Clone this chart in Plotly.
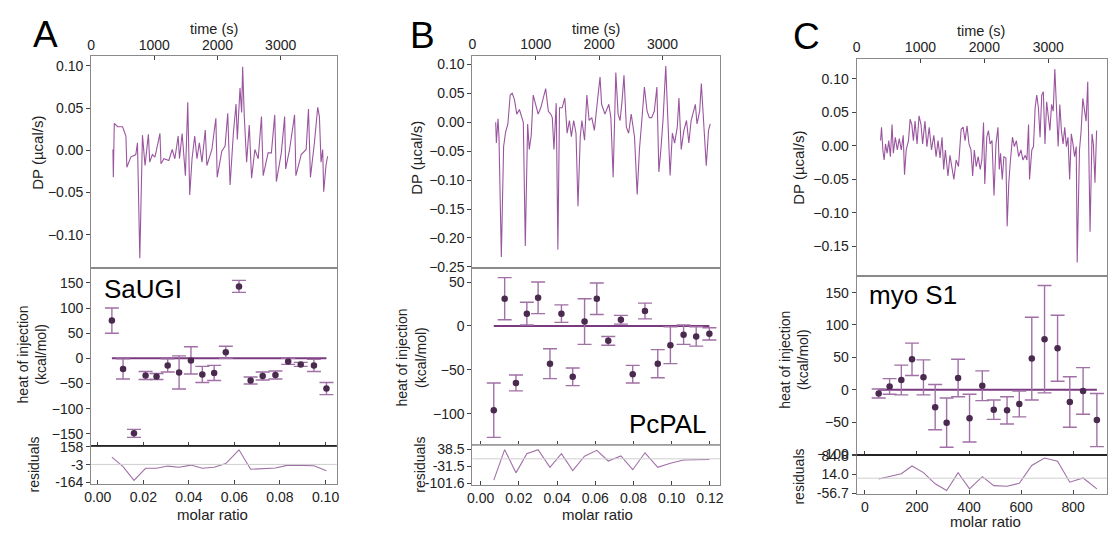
import plotly.graph_objects as go

# ---------------- data: A (SaUGI) ----------------
a_time = [345, 351, 366, 419, 497, 550, 565, 628, 707, 733,
          770, 812, 853, 906, 927, 969, 1010, 1089, 1105, 1152,
          1230, 1283, 1325, 1377, 1398, 1440, 1492, 1529, 1560, 1597,
          1639, 1675, 1712, 1754, 1806, 1832, 1911, 1974, 1995, 2068,
          2120, 2162, 2199, 2251, 2293, 2314, 2330, 2356, 2382, 2398,
          2424, 2461, 2503, 2539, 2592, 2644, 2696, 2723, 2801, 2853,
          2906, 2932, 3010, 3063, 3079, 3141, 3220, 3241, 3325, 3403,
          3440, 3471, 3534, 3586, 3613, 3639, 3665, 3681, 3717, 3743]
a_dp = [0.001, -0.032, 0.032, 0.028, 0.028, 0.017, -0.020, -0.008, -0.005, 0.009,
        -0.128, 0.018, -0.018, 0.019, -0.014, -0.005, -0.008, 0.020, -0.016, -0.010,
        -0.012, 0.001, -0.010, 0.017, -0.010, 0.020, -0.030, 0.057, -0.053, -0.010,
        0.017, -0.010, 0.009, -0.014, 0.024, -0.018, 0.001, 0.038, -0.032, -0.001,
        0.005, 0.044, -0.041, 0.020, 0.055, 0.013, 0.036, 0.074, 0.045, 0.099,
        0.040, -0.014, 0.030, -0.033, 0.001, -0.010, 0.040, -0.030, -0.003, -0.003,
        0.042, -0.037, -0.003, 0.040, -0.022, 0.001, 0.042, -0.030, -0.005, 0.001,
        0.049, -0.032, 0.009, 0.051, 0.040, -0.014, 0.001, -0.049, -0.018, -0.007]
a_ratio = [0.0062, 0.0111, 0.0159, 0.0210, 0.0258, 0.0307, 0.0357, 0.0409, 0.0459, 0.0511,
           0.0562, 0.0620, 0.0671, 0.0724, 0.0780, 0.0836, 0.0891, 0.0949, 0.1004]
a_heat = [75, -21, -149, -34, -36, -14, -28, -4, -32, -29,
          12, 143, -44, -35, -33, -6, -12, -14, -60]
a_err = [25, 20, 8, 8, 6, 13, 33, 27, 16, 15, 12, 12, 7, 8, 8, 6, 4, 12, 12]
a_resid = [66, -20, -144, -35, -35, -15, -26, -6, -35, -26,
           8, 132, -44, -35, -32, -6, -12, -12, -58]
a_resid_ticks = [158, -3, -164]
a_resid_text = ["158", "-3", "-164"]

# ---------------- data: B (PcPAL) ----------------
b_time = [368, 379, 405, 420, 457, 493, 524, 560, 597, 628,
          664, 701, 742, 768, 804, 835, 872, 898, 929, 960,
          1002, 1038, 1079, 1116, 1157, 1199, 1235, 1261, 1287, 1323,
          1349, 1375, 1417, 1458, 1495, 1531, 1562, 1598, 1635, 1666,
          1702, 1728, 1770, 1806, 1842, 1884, 1925, 1962, 2014, 2039,
          2091, 2153, 2185, 2221, 2263, 2299, 2330, 2361, 2392, 2429,
          2465, 2506, 2558, 2600, 2636, 2673, 2714, 2756, 2792, 2828,
          2870, 2911, 2942, 2974, 3010, 3051, 3088, 3119, 3155, 3191,
          3233, 3259, 3295, 3337, 3378, 3415, 3451, 3482, 3518, 3544,
          3586, 3612, 3648, 3690, 3726, 3752]
b_dp = [0.000, -0.036, 0.006, -0.025, -0.233, -0.042, -0.017, -0.003, 0.047, 0.050,
        0.039, 0.014, 0.022, 0.014, 0.000, -0.214, -0.003, -0.047, -0.022, 0.047,
        0.031, 0.014, 0.025, 0.039, 0.058, 0.019, 0.014, 0.008, -0.047, 0.033,
        -0.220, 0.025, 0.025, 0.042, -0.019, 0.003, -0.025, 0.003, -0.019, -0.145,
        -0.025, 0.003, -0.031, 0.047, 0.003, 0.008, -0.014, 0.025, 0.078, 0.031,
        0.014, 0.031, 0.008, -0.095, 0.086, 0.014, 0.003, 0.036, 0.081, -0.008,
        -0.019, 0.014, -0.025, -0.125, -0.047, 0.003, 0.061, 0.019, 0.008, 0.008,
        0.019, 0.061, -0.086, -0.047, 0.008, 0.097, -0.019, -0.092, -0.019, -0.036,
        -0.008, 0.042, -0.047, -0.014, 0.003, -0.036, 0.003, 0.014, 0.031, -0.003,
        0.019, 0.067, 0.008, -0.075, -0.014, -0.003]
b_ratio = [0.0069, 0.0126, 0.0185, 0.0242, 0.0301, 0.0363, 0.0423, 0.0482, 0.0544, 0.0608,
           0.0668, 0.0734, 0.0796, 0.0860, 0.0927, 0.0993, 0.1062, 0.1128, 0.1197]
b_heat = [-96, 31, -65, 14, 32, -43, 14, -58, 5, 31,
          -17, 7, -55, 17, -43, -22, -10, -12, -9]
b_err = [31, 24, 9, 13, 18, 17, 10, 10, 26, 18, 5, 5, 10, 9, 16, 21, 11, 11, 7]
b_resid = [-88, 38, -58, 21, 38, -35, 21, -49, 11, 35,
           -9, 12, -45, 25, -35, -18, -5, -4, -3]
b_resid_ticks = [38.5, -31.5, -101.6]
b_resid_text = ["38.5", "-31.5", "-101.6"]

# ---------------- data: C (myo S1) ----------------
c_time = [376, 391, 412, 432, 453, 479, 504, 530, 556, 576,
          607, 638, 669, 700, 731, 751, 777, 813, 839, 865,
          890, 916, 947, 978, 1009, 1034, 1071, 1101, 1137, 1173,
          1209, 1245, 1276, 1307, 1338, 1364, 1390, 1431, 1462, 1493,
          1523, 1559, 1595, 1637, 1668, 1698, 1729, 1760, 1791, 1817,
          1843, 1873, 1904, 1935, 1961, 1987, 2007, 2038, 2064, 2090,
          2120, 2151, 2182, 2213, 2234, 2254, 2280, 2306, 2337, 2357,
          2383, 2409, 2440, 2470, 2501, 2537, 2573, 2604, 2640, 2666,
          2692, 2707, 2743, 2769, 2795, 2820, 2846, 2872, 2898, 2923,
          2949, 2975, 3006, 3026, 3052, 3078, 3103, 3129, 3155, 3181,
          3206, 3232, 3258, 3284, 3309, 3335, 3361, 3387, 3412, 3438,
          3453, 3489, 3515, 3541, 3567, 3592, 3618, 3634, 3654, 3685,
          3706, 3731, 3757]
c_dp = [0.008, 0.028, -0.006, -0.021, 0.003, -0.011, 0.008, -0.016, 0.032, -0.011,
        0.013, -0.006, 0.011, -0.006, 0.016, -0.043, -0.006, 0.008, 0.040, 0.032,
        0.008, 0.037, 0.003, 0.045, 0.032, 0.003, 0.037, -0.001, 0.028, -0.006,
        0.016, -0.016, 0.008, -0.018, 0.013, -0.035, -0.006, -0.045, -0.014, -0.031,
        -0.050, -0.021, -0.031, 0.025, 0.028, 0.008, 0.030, 0.003, -0.006, -0.045,
        -0.006, -0.031, -0.016, -0.035, -0.021, 0.035, -0.057, 0.013, 0.023, 0.003,
        0.008, -0.074, 0.003, 0.028, -0.035, -0.011, -0.050, -0.016, -0.018, -0.120,
        -0.055, -0.021, 0.013, -0.001, 0.008, -0.016, -0.006, -0.021, -0.014, -0.021,
        0.032, -0.050, -0.006, -0.001, 0.057, 0.076, 0.057, 0.013, 0.076, 0.081,
        0.003, 0.066, 0.032, 0.023, 0.062, 0.052, 0.115, 0.052, -0.001, 0.062,
        0.023, 0.003, 0.028, -0.001, 0.013, -0.050, 0.018, 0.003, -0.016, -0.001,
        -0.174, -0.006, 0.023, 0.071, 0.052, 0.037, 0.096, -0.011, -0.128, 0.018,
        0.003, -0.055, 0.023]
c_ratio = [53, 95, 140, 181, 225, 270, 314, 358, 402, 451,
           495, 546, 593, 641, 690, 740, 787, 838, 891]
c_heat = [-6, 5, 15, 47, 19, -27, -51, 18, -44, 6,
          -31, -32, -22, 48, 78, 64, -19, -2, -47]
c_err = [7, 12, 23, 25, 27, 35, 38, 29, 37, 23, 15, 21, 20, 64, 83, 51, 39, 36, 41]
c_resid = [-3, 6, 17, 46, 21, -21, -46, 21, -40, 6,
           -28, -30, -19, 48, 76, 64, -15, 1, -40]
c_resid_ticks = [84.8, 14.0, -56.7]
c_resid_text = ["84.8", "14.0", "-56.7"]

letters = ["A", "B", "C"]
names = ["SaUGI", "PcPAL", "myo S1"]

# ---------------- layout (pixels) ----------------
W, H = 1115, 537
FONT = "Liberation Sans, Arial, sans-serif"
TXT = "#222222"
FRAME = "#8a8a8a"

panels = [
    dict(time=a_time, dp=a_dp, ratio=a_ratio, heat=a_heat, err=a_err, resid=a_resid,
         rt=a_resid_ticks, rtt=a_resid_text,
         left=85, right=333, top=50.5, s1=268, s2=450.7, bottom=490,
         trange=[0, 3887], dprange=[-0.1395, 0.1116], dpticks=[-0.10, -0.05, 0.0, 0.05, 0.10],
         xrange=[-0.0029, 0.1049], xticks=[0, 0.02, 0.04, 0.06, 0.08, 0.10], xfmt=".2f",
         hrange=[-174, 179.5], hticks=[-150, -100, -50, 0, 50, 100, 150],
         rrange=[-179, 167], split="black",
         letter_xy=(39, 28), name_xy=(96, 290), name_anchor="left",
         dp_title=(30, 150), heat_title=(25, 357), res_title=(27, 470),
         time_title=(209, 23), ratio_title=(208, 521)),
    dict(time=b_time, dp=b_dp, ratio=b_ratio, heat=b_heat, err=b_err, resid=b_resid,
         rt=b_resid_ticks, rtt=b_resid_text,
         left=470, right=720, top=50, s1=268, s2=450, bottom=491,
         trange=[0, 3905], dprange=[-0.252, 0.115],
         dpticks=[-0.25, -0.20, -0.15, -0.10, -0.05, 0.0, 0.05, 0.10],
         xrange=[-0.0043, 0.1252], xticks=[0, 0.02, 0.04, 0.06, 0.08, 0.10, 0.12], xfmt=".2f",
         hrange=[-136, 66], hticks=[-100, -50, 0, 50],
         rrange=[-109, 56], split="#b0b0b0",
         letter_xy=(420, 29), name_xy=(709, 428), name_anchor="right",
         dp_title=(414, 155), heat_title=(408, 360), res_title=(417, 470),
         time_title=(595, 23), ratio_title=(596, 521)),
    dict(time=c_time, dp=c_dp, ratio=c_ratio, heat=c_heat, err=c_err, resid=c_resid,
         rt=c_resid_ticks, rtt=c_resid_text,
         left=858, right=1111, top=53.3, s1=276, s2=460, bottom=500,
         trange=[0, 3920], dprange=[-0.194, 0.130], dpticks=[-0.15, -0.10, -0.05, 0.0, 0.05, 0.10],
         xrange=[-32, 930], xticks=[0, 200, 400, 600, 800], xfmt="d",
         hrange=[-101, 176], hticks=[-100, -50, 0, 50, 100, 150],
         rrange=[-59.3, 87.4], split="black",
         letter_xy=(807, 30), name_xy=(869, 296), name_anchor="left",
         dp_title=(800, 165), heat_title=(794, 362), res_title=(800, 482),
         time_title=(984, 25), ratio_title=(988, 528)),
]


def xdom(p):
    return [p["left"] / W, p["right"] / W]


def ydom(top, bottom):
    return [1 - bottom / H, 1 - top / H]


fig = go.Figure()
layout = {}
annotations = []
shapes = []
tickfont = dict(family=FONT, size=14, color=TXT)
base = dict(showgrid=False, zeroline=False, showline=True, linecolor=FRAME,
            linewidth=1, mirror=True, tickfont=tickfont, tickcolor="#444", ticklen=4)


def ann(text, xy, size=14, angle=0, xanchor="center", color=TXT):
    annotations.append(dict(text=text, x=xy[0] / W, y=1 - xy[1] / H, xref="paper",
                            yref="paper", showarrow=False, textangle=angle,
                            xanchor=xanchor, yanchor="middle",
                            font=dict(family=FONT, size=size, color=color)))


for i, p in enumerate(panels):
    k = 3 * i + 1
    xt, yt = f"x{k}", f"y{k}"
    xh, yh = f"x{k+1}", f"y{k+1}"
    xr, yr = f"x{k+2}", f"y{k+2}"

    # thermogram
    layout[f"xaxis{k}"] = dict(base, domain=xdom(p), anchor=yt, side="top",
                               range=p["trange"], tickvals=[0, 1000, 2000, 3000],
                               ticks="inside")
    layout[f"yaxis{k}"] = dict(base, domain=ydom(p["top"], p["s1"]), anchor=xt,
                               range=p["dprange"], tickvals=p["dpticks"],
                               tickformat=".2f", ticks="outside")
    # heat of injection
    layout[f"xaxis{k+1}"] = dict(base, domain=xdom(p), anchor=yh, matches=xr,
                                 range=p["xrange"], tickvals=p["xticks"],
                                 showticklabels=False, ticks="inside")
    layout[f"yaxis{k+1}"] = dict(base, domain=ydom(p["s1"], p["s2"]), anchor=xh,
                                 range=p["hrange"], tickvals=p["hticks"], ticks="outside")
    # residuals
    layout[f"xaxis{k+2}"] = dict(base, domain=xdom(p), anchor=yr,
                                 range=p["xrange"], tickvals=p["xticks"],
                                 tickformat=p["xfmt"], ticks="inside")
    layout[f"yaxis{k+2}"] = dict(base, domain=ydom(p["s2"], p["bottom"]), anchor=xr,
                                 range=p["rrange"], tickvals=p["rt"], ticktext=p["rtt"],
                                 ticks="outside")

    fig.add_trace(go.Scatter(x=p["time"], y=p["dp"], mode="lines", xaxis=xt, yaxis=yt,
                             line=dict(color="#9a559f", width=1.1)))
    fig.add_trace(go.Scatter(x=[p["ratio"][0], p["ratio"][-1]], y=[0, 0], mode="lines",
                             xaxis=xh, yaxis=yh, line=dict(color="#7a3a80", width=2)))
    fig.add_trace(go.Scatter(x=p["ratio"], y=p["heat"], mode="markers", xaxis=xh, yaxis=yh,
                             marker=dict(color="#4a2a4f", size=6.5),
                             error_y=dict(type="data", array=p["err"], color="#a070a6",
                                          thickness=1.4, width=7)))
    fig.add_trace(go.Scatter(x=p["ratio"], y=p["resid"], mode="lines", xaxis=xr, yaxis=yr,
                             line=dict(color="#a070a6", width=1.1)))

    # zero reference in residuals and heat/residual divider
    shapes.append(dict(type="line", xref=f"{xr} domain", yref=yr, x0=0, x1=1, y0=0, y1=0,
                       line=dict(color="#cfcfcf", width=1)))
    shapes.append(dict(type="line", xref=f"{xr} domain", yref=f"{yr} domain",
                       x0=0, x1=1, y0=1, y1=1, line=dict(color=p["split"], width=1.3)))

    ann(letters[i], p["letter_xy"], size=37, color="black")
    ann(names[i], p["name_xy"], size=26, xanchor=p["name_anchor"], color="black")
    ann("DP (µcal/s)", p["dp_title"], size=15, angle=-90)
    ann("heat of injection<br>(kcal/mol)", p["heat_title"], size=14, angle=-90)
    ann("residuals", p["res_title"], size=14, angle=-90)
    ann("time (s)", p["time_title"], size=14.5)
    ann("molar ratio", p["ratio_title"], size=15)

fig.update_layout(width=W, height=H, margin=dict(l=0, r=0, t=0, b=0),
                  plot_bgcolor="white", paper_bgcolor="white", showlegend=False,
                  annotations=annotations, shapes=shapes, **layout)

fig.write_html("out.html", config={"displayModeBar": False},
               post_script="document.body.style.margin='0px';")
